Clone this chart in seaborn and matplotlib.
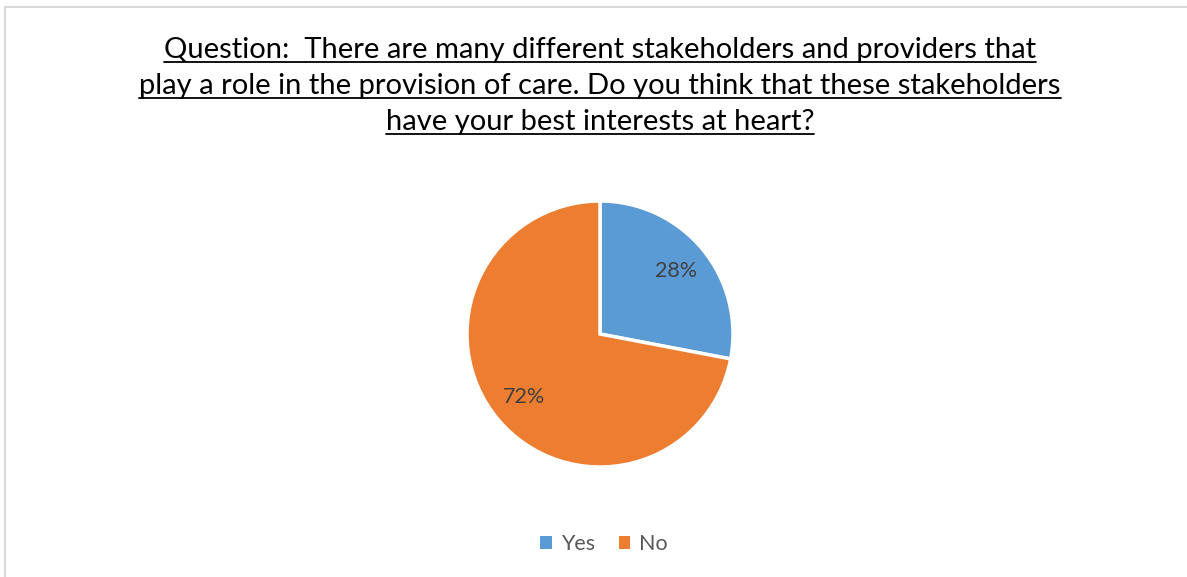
import matplotlib
matplotlib.use('Agg')
import matplotlib.pyplot as plt
import seaborn as sns
from matplotlib.lines import Line2D
from matplotlib.patches import Patch

sns.set_theme(style="white")
plt.rcParams['font.family'] = ['Lato', 'DejaVu Sans']

title_lines = [
    "Question:  There are many different stakeholders and providers that",
    "play a role in the provision of care. Do you think that these stakeholders",
    "have your best interests at heart?",
]
labels = ['Yes', 'No']
values = [28, 72]
colors = ['#5B9BD5', '#ED7D31']

W, H = 1187, 577
fig = plt.figure(figsize=(W / 100, H / 100), dpi=100)

# pie axes: center ~ (600, 334) px, radius ~133 px
r = 133
ax = fig.add_axes([(600 - r) / W, (H - 334 - r) / H, 2 * r / W, 2 * r / H])
wedges, texts, autotexts = ax.pie(
    values, colors=colors, startangle=90, counterclock=False,
    autopct='%1.0f%%', pctdistance=0.74,
    wedgeprops=dict(edgecolor='white', linewidth=2.5),
    textprops=dict(fontsize=15.5, color='#404040'))
ax.set_xlim(-1, 1)
ax.set_ylim(-1, 1)
ax.set_aspect('equal')
ax.axis('off')

# title, underlined
baselines = [58, 94, 130]
title_texts = []
for line, yb in zip(title_lines, baselines):
    t = fig.text(600 / W, 1 - yb / H, line, ha='center', va='baseline',
                 fontsize=21, color='black')
    title_texts.append((t, yb))

fig.canvas.draw()
renderer = fig.canvas.get_renderer()
for t, yb in title_texts:
    bb = t.get_window_extent(renderer)
    yu = 1 - (yb + 4) / H
    fig.add_artist(Line2D([bb.x0 / W, bb.x1 / W], [yu, yu], color='black', lw=1.3,
                          transform=fig.transFigure))

# legend
handles = [Patch(facecolor=c, edgecolor='none') for c in colors]
fig.legend(handles, labels, loc='center', bbox_to_anchor=(604 / W, 1 - 544 / H),
           ncol=2, frameon=False, fontsize=15.5, handlelength=0.55, handleheight=0.55,
           handletextpad=0.4, columnspacing=1.1, labelcolor='#595959')

# chart frame (left and top edges visible)
fig.add_artist(Line2D([4.5 / W, 4.5 / W], [0, 1 - 6.5 / H], color='#D9D9D9', lw=1.5,
                      transform=fig.transFigure))
fig.add_artist(Line2D([4.5 / W, 1], [1 - 6.5 / H, 1 - 6.5 / H], color='#D9D9D9', lw=1.5,
                      transform=fig.transFigure))

fig.savefig('out.png', dpi=100, facecolor='white')
